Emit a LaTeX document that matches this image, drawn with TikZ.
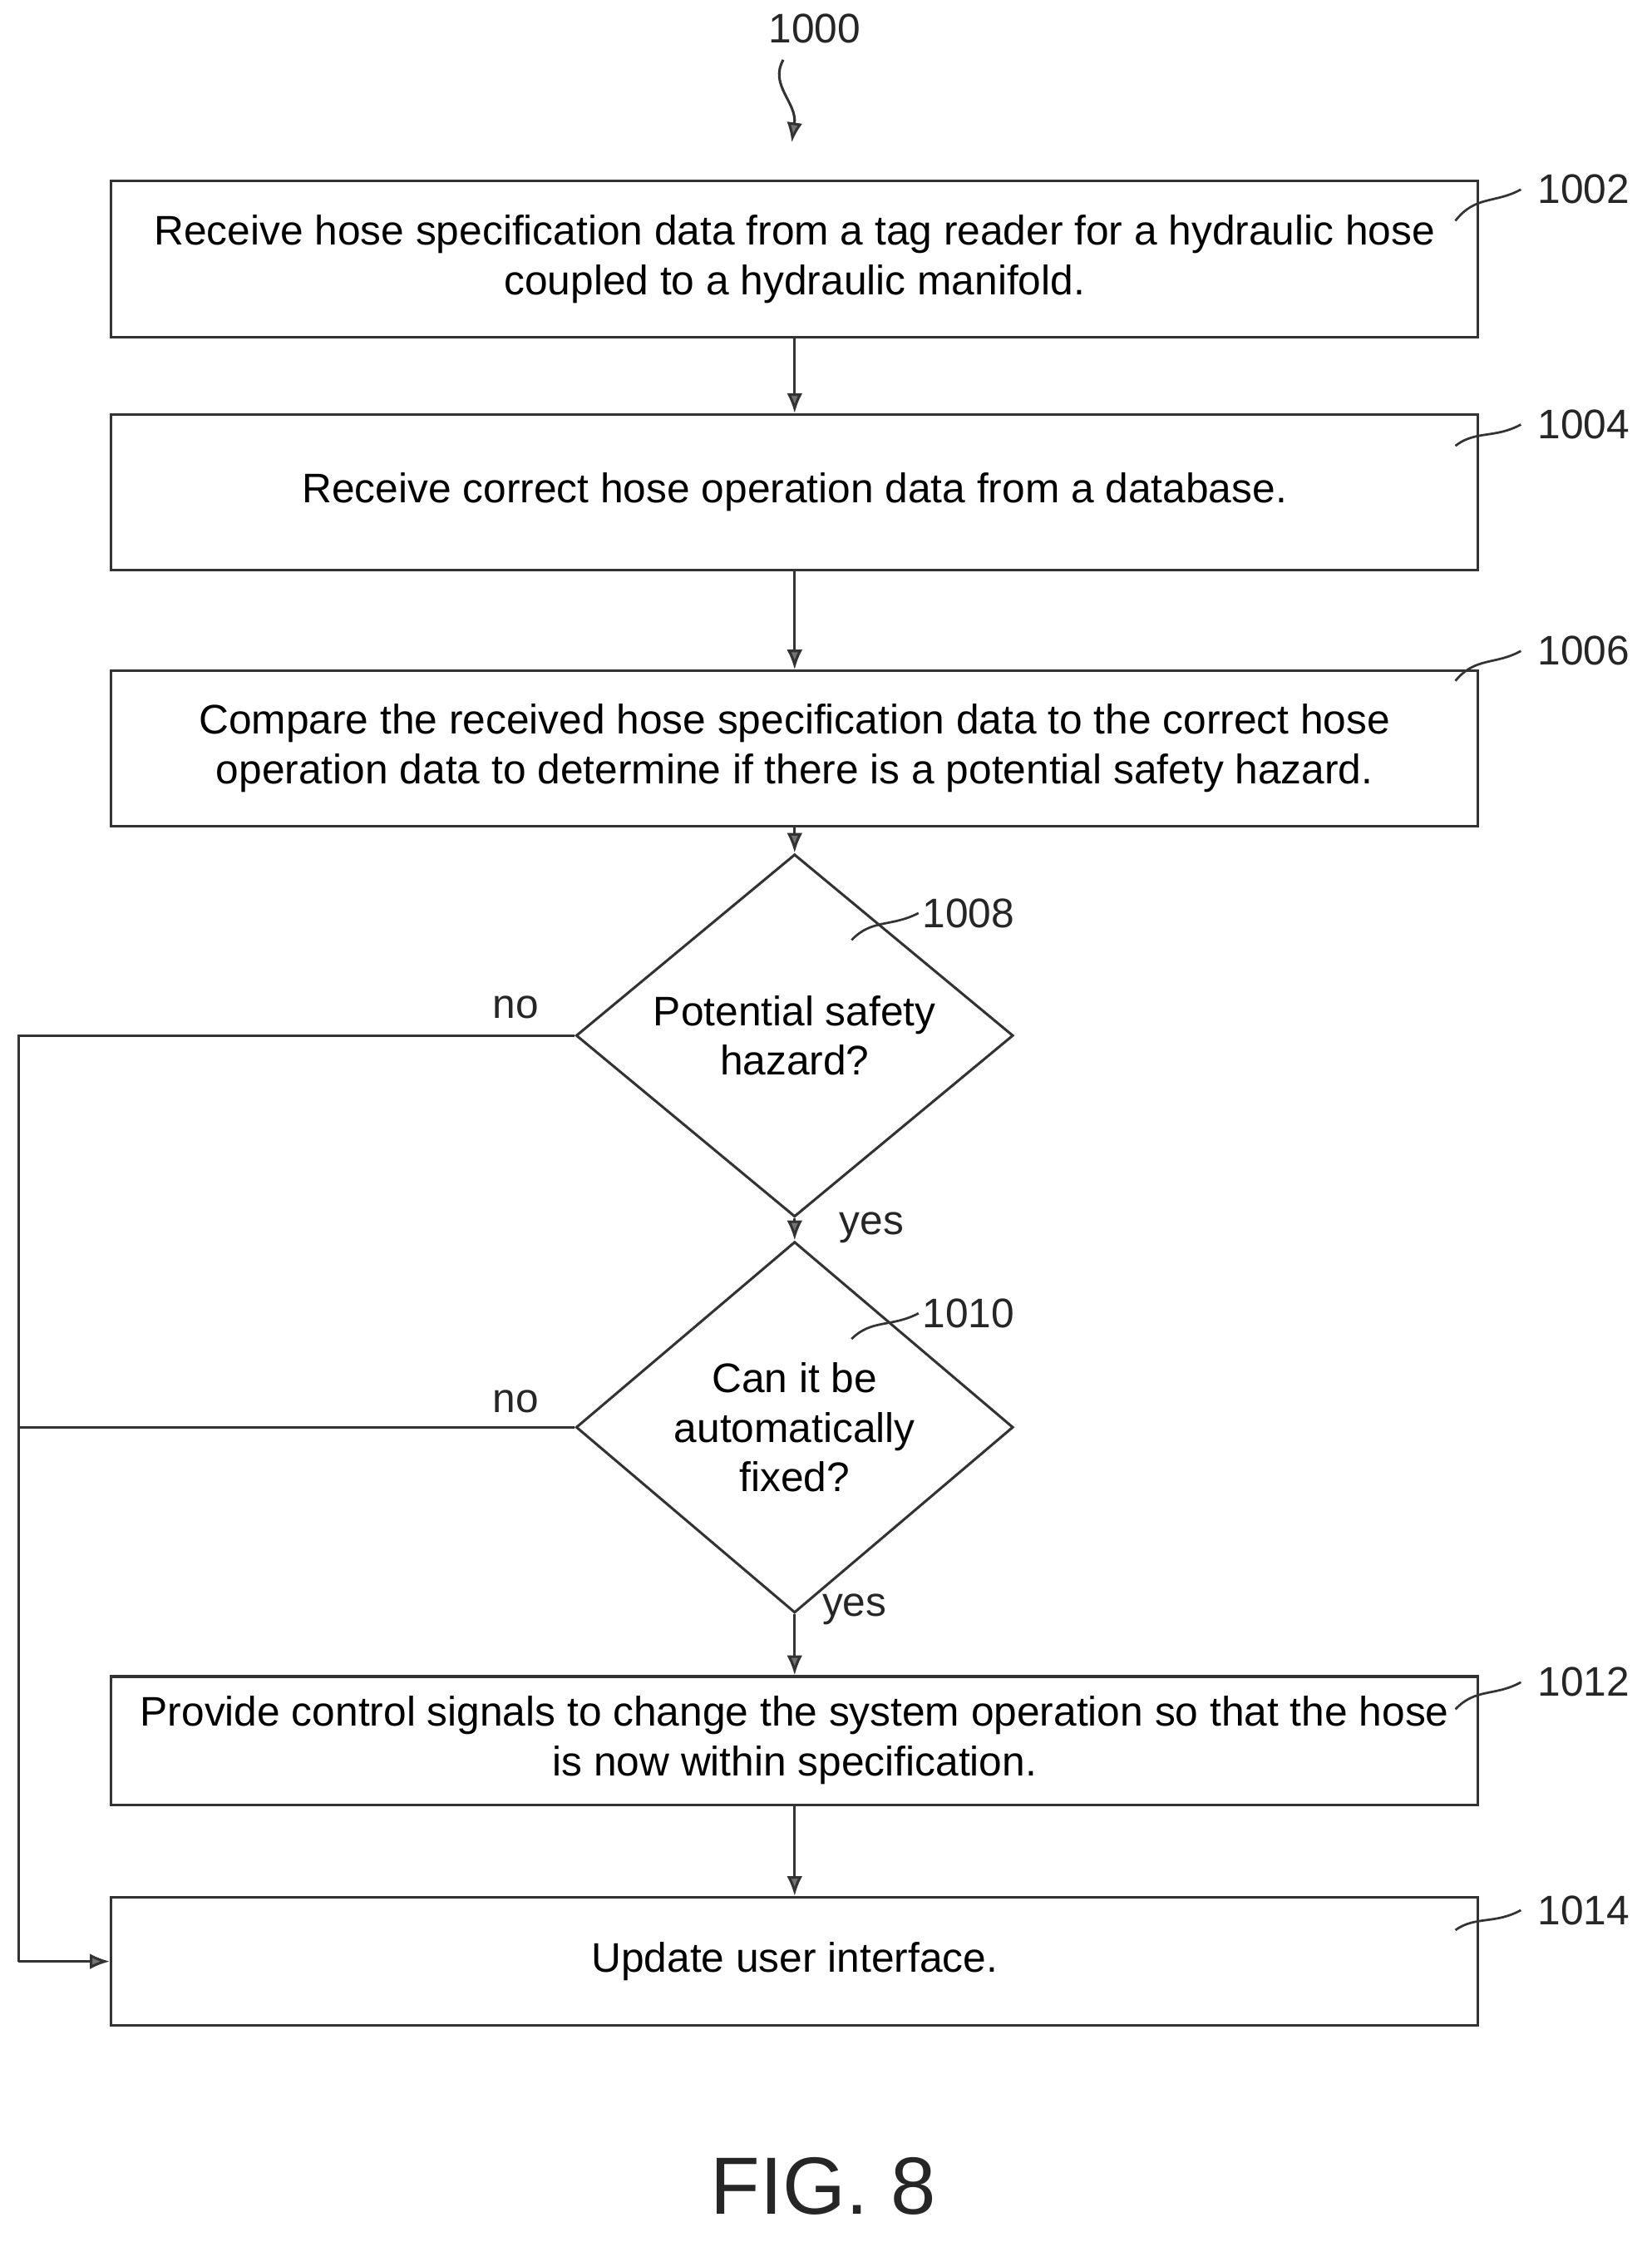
\documentclass[tikz,border=0pt]{standalone}
\usepackage{fontspec}
\setmainfont{Liberation Sans}
\usetikzlibrary{shapes.geometric,arrows.meta}
\begin{document}
\begin{tikzpicture}[x=1pt,y=-1pt,
  line width=1.8pt, draw=black!80,
  box/.style={draw=black!80,line width=1.8pt,minimum width=960pt,align=center,font=\fontsize{29}{35}\selectfont,inner sep=0},
  dia/.style={draw=black!80,line width=1.8pt,diamond,minimum width=307pt,minimum height=227pt,align=center,font=\fontsize{29}{35}\selectfont,inner sep=0},
  arr/.style={draw=black!80,line width=1.8pt,-{Latex[length=14pt,width=11pt,fill=black!55]}},
  lab/.style={font=\fontsize{29}{32}\selectfont,text=black!85},
  lead/.style={draw=black!80,line width=1.6pt}]
\useasboundingbox (0,0) rectangle (1160,1574);
\node[box,minimum height=110pt] (b1002) at (558,182) {Receive hose specification data from a tag reader for a hydraulic hose\\coupled to a hydraulic manifold.};
\node[box,minimum height=109pt] (b1004) at (558,345.5) {Receive correct hose operation data from a database.};
\node[box,minimum height=109pt] (b1006) at (558,525.5) {Compare the received hose specification data to the correct hose\\operation data to determine if there is a potential safety hazard.};
\node[dia] (d1008) at (558,727) {Potential safety\\hazard?};
\node[dia] (d1010) at (558,1002) {Can it be\\automatically\\fixed?};
\node[box,minimum height=90pt] (b1012) at (558,1222) {Provide control signals to change the system operation so that the hose\\is now within specification.};
\node[box,minimum height=90pt] (b1014) at (558,1377) {Update user interface.};
\node[lab] (t1000) at (572,20) {1000};
\coordinate (a1000s) at (550,42);
\coordinate (a1000e) at (556,100);
\draw[arr] (a1000s) .. controls (540,60) and (560,72) .. (a1000e);
\draw[arr] (b1002) -- (b1004);
\draw[arr] (b1004) -- (b1006);
\draw[arr] (b1006) -- (d1008);
\draw[arr] (d1008) -- (d1010);
\draw[arr] (d1010) -- (b1012);
\draw[arr] (b1012) -- (b1014);
\coordinate (lt) at (13,727);
\coordinate (lb) at (13,1377);
\draw (d1008.west) -- (lt) -- (lb);
\draw (d1010.west) -- (13,1002);
\draw[arr] (lb) -- (b1014.west);
\node[lab] (n1) at (362,707) {no};
\node[lab] (n2) at (362,984) {no};
\node[lab] (y1) at (612,862) {yes};
\node[lab] (y2) at (600,1130) {yes};
\node[font=\fontsize{57}{62}\selectfont,text=black!85] (fig) at (578,1535) {FIG. 8};
\foreach \n/\y/\ly in {1002/155/133,1004/313/298,1006/478/457,1012/1200/1181,1014/1355/1341}{
  \node[lab] (l\n) at (1112,\ly) {\n};
  \coordinate (s\n) at (1022,\y);
  \draw[lead] (s\n) .. controls (1036,\ly+4) and (1050,\ly+10) .. (1068,\ly);
}
\foreach \n/\y/\ly in {1008/660/641,1010/940/922}{
  \node[lab] (l\n) at (680,\ly) {\n};
  \coordinate (s\n) at (598,\y);
  \draw[lead] (s\n) .. controls (612,\ly+4) and (626,\ly+10) .. (645,\ly);
}
\end{tikzpicture}
\end{document}
